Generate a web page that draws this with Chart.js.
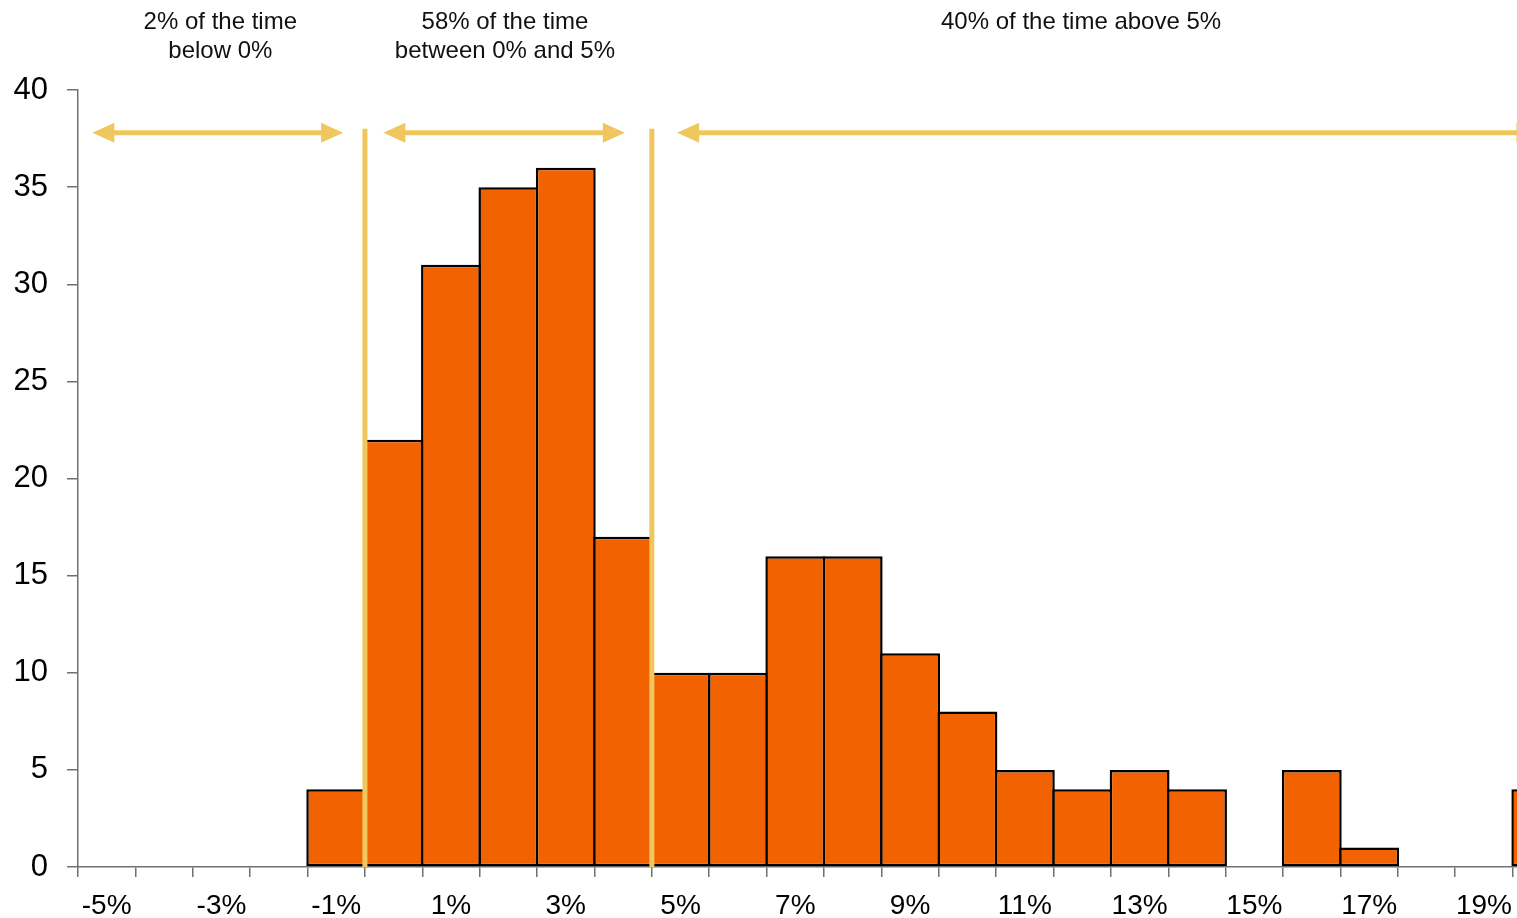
<!DOCTYPE html>
<html>
<head>
<meta charset="utf-8">
<script src="https://cdn.jsdelivr.net/npm/chart.js@4"></script>
<style>
  html, body { margin:0; padding:0; background:#fff; overflow:hidden; }
  #wrap { width:1570px; height:918px; }
</style>
</head>
<body>
<div id="wrap"><canvas id="chart" width="1570" height="918"></canvas></div>
<script>
// histogram bins (return, %) and how many periods fell in each
const bins   = [-5,-4,-3,-2,-1,0,1,2,3,4,5,6,7,8,9,10,11,12,13,14,15,16,17,18,19,20];
const counts = [0,0,0,0,4,22,31,35,36,17,10,10,16,16,11,8,5,4,5,4,0,5,1,0,0,4];
const yTicks = [0,5,10,15,20,25,30,35,40];

// the three ranges marked above the bars (in bin edges, from the left)
const bandNotes = [
  {lines:['2% of the time','below 0%'], at:2.48},
  {lines:['58% of the time','between 0% and 5%'], at:7.44},
  {lines:['40% of the time above 5%'], at:17.48}
];
const splitEdges = [5, 10];
const arrows = [[0.25, 4.62], [5.32, 9.53], [10.44, 25.45]];

const YEL = '#EFC75E';
const FONT = '"Liberation Sans", Arial, sans-serif';

const overlay = {
  id:'overlay',
  afterDatasetsDraw(chart){
    const {ctx, scales:{x, y}} = chart;
    const w = x.getPixelForValue(1) - x.getPixelForValue(0);
    const left = x.getPixelForValue(0) - w/2;
    const ex = e => left + e*w;
    ctx.save();
    ctx.strokeStyle = YEL;
    ctx.fillStyle = YEL;
    ctx.lineWidth = 5;
    splitEdges.forEach(e => {
      ctx.beginPath();
      ctx.moveTo(ex(e), y.getPixelForValue(38));
      ctx.lineTo(ex(e), y.getPixelForValue(0));
      ctx.stroke();
    });
    const ay = y.getPixelForValue(37.8);
    const head = 22, half = 10;
    arrows.forEach(([a, b]) => {
      const x1 = ex(a), x2 = ex(b);
      ctx.beginPath();
      ctx.moveTo(x1 + head - 2, ay);
      ctx.lineTo(x2 - head + 2, ay);
      ctx.stroke();
      ctx.beginPath();
      ctx.moveTo(x1, ay); ctx.lineTo(x1 + head, ay - half); ctx.lineTo(x1 + head, ay + half);
      ctx.closePath(); ctx.fill();
      ctx.beginPath();
      ctx.moveTo(x2, ay); ctx.lineTo(x2 - head, ay - half); ctx.lineTo(x2 - head, ay + half);
      ctx.closePath(); ctx.fill();
    });
    ctx.fillStyle = '#111';
    ctx.font = '24px ' + FONT;
    ctx.textAlign = 'center';
    ctx.textBaseline = 'middle';
    bandNotes.forEach(n => {
      n.lines.forEach((t, i) => ctx.fillText(t, ex(n.at), 22 + i*29));
    });
    ctx.restore();
  }
};

const binW = (1570 - 78) / bins.length;
const bw = 2.5;

new Chart(document.getElementById('chart'), {
  type:'bar',
  data:{
    labels: bins.map(b => b + '%'),
    datasets:[{
      data: counts,
      backgroundColor:'#F36200',
      borderColor:'#000',
      borderWidth:bw,
      borderSkipped:false,
      inflateAmount:0,
      barPercentage:(binW + bw) / binW,
      categoryPercentage:1
    }]
  },
  options:{
    responsive:false,
    animation:false,
    layout:{padding:{top:90, right:0, left:0, bottom:0}},
    plugins:{legend:{display:false}, tooltip:{enabled:false}},
    scales:{
      x:{
        offset:true,
        afterFit(s){ s.height = 51; },
        grid:{offset:true, drawOnChartArea:false, drawTicks:true, tickLength:10, color:'#707070', lineWidth:1.5},
        border:{display:true, color:'#707070', width:1.5},
        ticks:{
          autoSkip:false, maxRotation:0, padding:12, color:'#000',
          font:{family:FONT, size:28},
          callback(v, i){ return bins[i] % 2 ? bins[i] + '%' : ''; }
        }
      },
      y:{
        min:0, max:40,
        afterFit(s){ s.width = 78; },
        afterBuildTicks(s){ s.ticks = yTicks.map(v => ({value:v})); },
        grid:{drawOnChartArea:false, drawTicks:true, tickLength:11, color:'#707070', lineWidth:1.5},
        border:{display:true, color:'#707070', width:1.5},
        ticks:{
          padding:19, color:'#000',
          font:{family:FONT, size:31}
        }
      }
    }
  },
  plugins:[overlay]
});
</script>
</body>
</html>
